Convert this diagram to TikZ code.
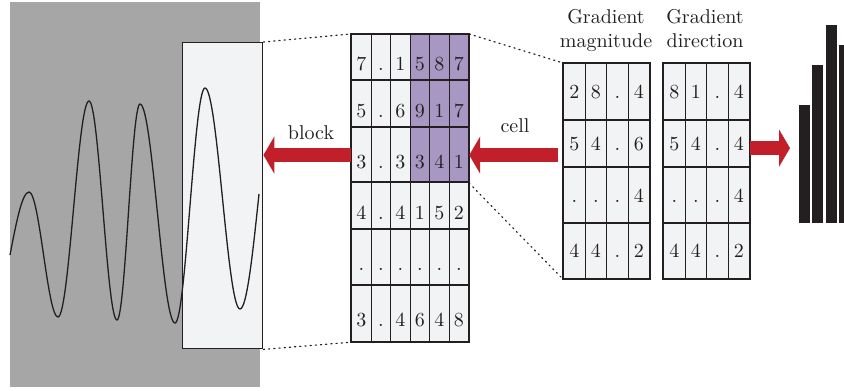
\documentclass[tikz,border=0pt]{standalone}
\usetikzlibrary{arrows.meta}
\definecolor{bggray}{HTML}{A6A6A6}
\definecolor{cellwhite}{HTML}{F2F3F5}
\definecolor{cellpurple}{HTML}{A897C3}
\definecolor{arrowred}{HTML}{C1202A}
\definecolor{inkdark}{HTML}{231F20}
\tikzset{
  cellbox/.style={draw=inkdark, line width=0.6pt, inner sep=0pt, anchor=north west, text=inkdark},
  rowframe/.style={draw=inkdark, line width=1pt},
  lowtext/.style={text height=13pt, text depth=0pt},
  midtext/.style={text height=6.5pt, text depth=0pt},
  fatarrow/.style={arrowred, line width=7pt, -{Triangle[length=5.5pt,width=18.5pt]}},
  guide/.style={inkdark, line width=0.6pt, dotted, line cap=round},
  histbar/.style={fill=inkdark, inner sep=0pt, anchor=south west, minimum width=5.5pt},
}
\begin{document}
\begin{tikzpicture}[x=0.5pt,y=-0.5pt]
  \useasboundingbox (0,0) rectangle (844,390);
  \clip (0,0) rectangle (844,390);
  % signal with the selected block
  \fill[bggray] (10,2) rectangle (260,387);
  \node[draw=inkdark, fill=cellwhite, line width=0.7pt, inner sep=0pt, anchor=north west,
        minimum width=40pt, minimum height=153pt] (blk) at (182,42) {};
  \draw[inkdark, line width=0.65pt] (10,255) sin (29,192) cos (43.5,254.5) sin (58,317)
    cos (73.5,209) sin (89,101) cos (103,210.5) sin (117,320) cos (128.5,212) sin (140,104)
    cos (157.5,213.5) sin (175,323) cos (190,205.5) sin (205,88) cos (222.5,198.5) sin (240,309)
    cos (259,194);
  % block of cells
  \foreach \r/\top/\bot/\vals in {1/34/80/{7,.,1,5,8,7}, 2/80/127/{5,.,6,9,1,7},
      3/127/182/{3,.,3,3,4,1}, 4/182/229/{4,.,4,1,5,2}, 5/229/285/{.,.,.,.,.,.},
      6/285/341/{3,.,4,6,4,8}} {
    \foreach \v [count=\c] in \vals {
      \pgfmathtruncatemacro\hot{and(\r<4,\c>3)}
      \ifnum\hot=1 \def\cellfill{cellpurple}\else\def\cellfill{cellwhite}\fi
      \node[cellbox, lowtext, fill=\cellfill, minimum width=9.75pt,
            minimum height=(\bot-\top)*0.5pt] (m-\r-\c) at ({351+(\c-1)*19.5},\top) {\v};
    }
    \draw[rowframe] (m-\r-1.north west) rectangle (m-\r-6.south east);
  }
  % gradient magnitude and direction of one cell
  \foreach \r/\top/\bot/\mvals/\dvals in {1/63/120/{2,8,.,4}/{8,1,.,4},
      2/120/167/{5,4,.,6}/{5,4,.,4}, 3/167/223/{.,.,.,4}/{.,.,.,4},
      4/223/278/{4,4,.,2}/{4,4,.,2}} {
    \foreach \v [count=\c] in \mvals
      \node[cellbox, midtext, fill=cellwhite, minimum width=10.75pt,
            minimum height=(\bot-\top)*0.5pt] (g-\r-\c) at ({563+(\c-1)*21.5},\top) {\v};
    \foreach \v [count=\c] in \dvals
      \node[cellbox, midtext, fill=cellwhite, minimum width=10.75pt,
            minimum height=(\bot-\top)*0.5pt] (d-\r-\c) at ({663+(\c-1)*21.5},\top) {\v};
    \draw[rowframe] (g-\r-1.north west) rectangle (g-\r-4.south east);
    \draw[rowframe] (d-\r-1.north west) rectangle (d-\r-4.south east);
  }
  \node[align=center, anchor=north, inner sep=0pt, text=inkdark] (maglbl) at (606,9) {Gradient\\magnitude};
  \node[align=center, anchor=north, inner sep=0pt, text=inkdark] (dirlbl) at (705,9) {Gradient\\direction};
  % histogram
  \foreach \x/\t [count=\i] in {799/105, 812/65, 826/25, 839/45}
    \node[histbar, minimum height=(223-\t)*0.5pt] (bar-\i) at (\x,223) {};
  % zoom guides
  \draw[guide] (blk.north east) -- (m-1-1.north west);
  \draw[guide] (blk.south east) -- (m-6-1.south west);
  \draw[guide] (m-1-6.north east) -- (g-1-1.north west);
  \draw[guide] (m-3-6.south east) -- (g-4-1.south west);
  % arrows
  \draw[fatarrow] (m-3-1.west) -- (m-3-1.west -| blk.east);
  \node[text=inkdark] (blocklbl) at (311,133) {block};
  \draw[fatarrow, shorten <=2.5pt] (g-2-1.west |- m-3-6.east) -- (m-3-6.east);
  \node[text=inkdark] (celllbl) at (515,126) {cell};
  \coordinate (histin) at ([yshift=-2pt]d-2-4.east);
  \draw[fatarrow, shorten >=4.5pt] (histin) -- (histin -| bar-1.west);
\end{tikzpicture}
\end{document}
